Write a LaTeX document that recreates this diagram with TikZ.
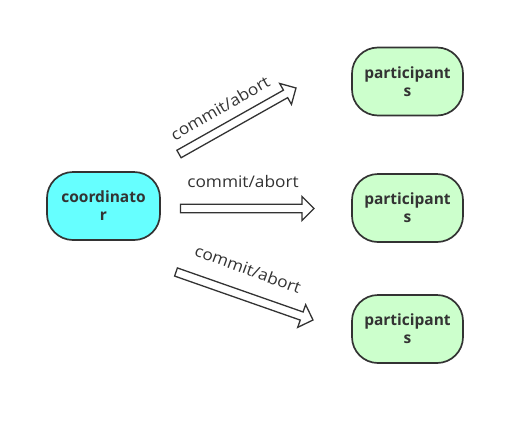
\documentclass[tikz,border=0pt]{standalone}
\usepackage{fontspec}
\setmainfont{Open Sans}
\usetikzlibrary{calc}
\definecolor{edge}{HTML}{333333}
\definecolor{coordfill}{HTML}{66FFFF}
\definecolor{partfill}{HTML}{CCFFCC}
\newcommand{\blockarr}[2]{%
  \coordinate (#1-b) at ($(#2)!12pt!(#1)$);
  \draw[arrowbody]
    ($(#1)!4.3pt!90:(#2)$) -- ($(#1-b)!4.3pt!-90:(#1)$) -- ($(#1-b)!12pt!-90:(#1)$) -- (#2)
    -- ($(#1-b)!12pt!90:(#1)$) -- ($(#1-b)!4.3pt!90:(#1)$) -- ($(#1)!4.3pt!-90:(#2)$) -- cycle;
}
\tikzset{
  box/.style={draw=edge, line width=1.7pt, rounded corners=26pt, minimum height=68pt,
    align=center, text=edge, font=\fontsize{15.5}{18}\selectfont\bfseries, inner sep=0pt},
  coordbox/.style={box, fill=coordfill, minimum width=113pt},
  partbox/.style={box, fill=partfill, minimum width=111pt},
  arrowbody/.style={draw=edge, fill=white, line width=1.3pt, line join=miter},
  lbl/.style={text=edge, font=\fontsize{16}{18}\selectfont\addfontfeature{FakeStretch=1.08}, inner sep=0pt}
}
\begin{document}
\begin{tikzpicture}[x=1pt,y=-1pt]
\path[use as bounding box] (0,0) rectangle (524,426);
\node[coordbox] (coord) at (103.5,206) {coordinato\\r};
\node[partbox] (p1) at (407.5,81.5) {participant\\s};
\node[partbox] (p2) at (407.5,208) {participant\\s};
\node[partbox] (p3) at (407.5,329) {participant\\s};
% arrows
\coordinate (a1t) at (179,154);
\coordinate (a1h) at (296,88);
\coordinate (a2t) at (180.5,208.5);
\coordinate (a2h) at (314,208.5);
\coordinate (a3t) at (176,272);
\coordinate (a3h) at (313,320);
\blockarr{a1t}{a1h}
\blockarr{a2t}{a2h}
\blockarr{a3t}{a3h}
% labels
\node[lbl, rotate=30] (l1) at (220,108) {commit/abort};
\node[lbl, anchor=base] (l2) at (243,187) {commit/abort};
\node[lbl, rotate=-20] (l3) at (248,269) {commit/abort};
\end{tikzpicture}
\end{document}
